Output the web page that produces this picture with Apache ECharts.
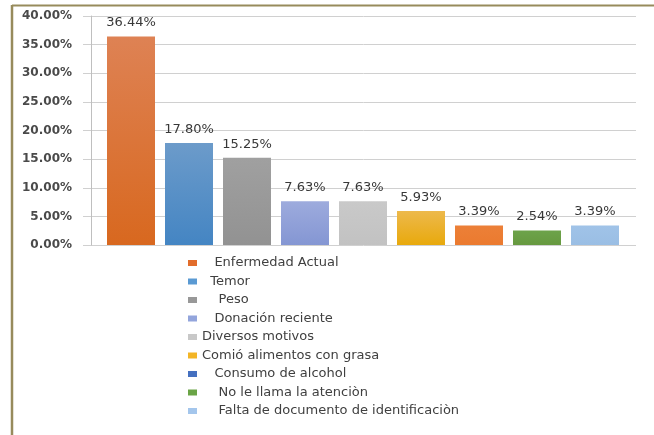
<!DOCTYPE html>
<html>
<head>
<meta charset="utf-8">
<script src="https://cdn.jsdelivr.net/npm/echarts@6/dist/echarts.min.js"></script>
<style>
html,body{margin:0;padding:0;background:#fff;}
#c{width:654px;height:435px;}
</style>
</head>
<body>
<div id="c"></div>
<script>
// ---- data ----
const categories = [
  'Enfermedad Actual',
  'Temor',
  'Peso',
  'Donación reciente',
  'Diversos motivos',
  'Comió alimentos con grasa',
  'Consumo de alcohol',
  'No le llama la atenciòn',
  'Falta de documento de identificaciòn'
];
const values = [36.44, 17.80, 15.25, 7.63, 7.63, 5.93, 3.39, 2.54, 3.39];
const yTickLabels = ['0.00%', '5.00%', '10.00%', '15.00%', '20.00%', '25.00%', '30.00%', '35.00%', '40.00%'];

// ---- styles ----
const barColors = [
  ['#DE8254', '#D8681F'],
  ['#6C9BCA', '#4485C3'],
  ['#A0A0A0', '#929292'],
  ['#9DABDD', '#8496D3'],
  ['#C9C9C9', '#C2C2C2'],
  ['#EDB94C', '#E8A90C'],
  ['#EC8038', '#EB7A2F'],
  ['#6DA34A', '#66993F'],
  ['#A0C3E8', '#9ABEE4']
];
const legendColors = ['#E26D2B', '#5A9AD3', '#989898', '#93A5DC', '#C8C8C8', '#F3B526', '#4570C0', '#6AA446', '#A4C6EC'];
const legendIndent = [3, 2, 4, 3, 0, 0, 3, 4, 4];

const chart = echarts.init(document.getElementById('c'), null, {renderer: 'canvas'});

const series = categories.map((name, i) => ({
  name: name,
  type: 'bar',
  xAxisIndex: 0,
  yAxisIndex: 0,
  barWidth: 48,
  barGap: '-100%',
  data: values.map((v, j) => (j === i ? v : '-')),
  itemStyle: {
    color: new echarts.graphic.LinearGradient(0, 0, 0, 1, [
      {offset: 0, color: barColors[i][0]},
      {offset: 1, color: barColors[i][1]}
    ])
  },
  label: {
    show: true,
    position: 'top',
    distance: 7,
    formatter: p => p.value.toFixed(2) + '%',
    fontFamily: 'DejaVu Sans',
    fontSize: 13,
    color: '#383838'
  }
}));

const option = {
  backgroundColor: '#fff',
  animation: false,
  grid: [
    {left: 102, right: 30, top: 16, bottom: 190},
    {left: 91, right: 18, top: 16, bottom: 190}
  ],
  xAxis: [
    {type: 'category', gridIndex: 0, data: categories, show: false},
    {type: 'value', gridIndex: 1, min: 0, max: 1, show: false}
  ],
  yAxis: [
    {type: 'value', gridIndex: 0, min: 0, max: 40, interval: 5, show: false},
    {
      type: 'value', gridIndex: 1, min: 0, max: 40, interval: 5,
      axisLine: {show: true, lineStyle: {color: '#BFBFBF', width: 1}},
      axisTick: {show: true, length: 8, lineStyle: {color: '#D0D0D0', width: 1}},
      splitLine: {show: true, lineStyle: {color: '#D0D0D0', width: 1}},
      axisLabel: {
        margin: 19,
        fontFamily: 'DejaVu Sans',
        fontWeight: 'bold',
        fontSize: 12,
        color: '#4a4a4a',
        formatter: v => yTickLabels[Math.round(v / 5)]
      }
    }
  ],
  legend: {
    orient: 'vertical',
    left: 188,
    top: 256,
    padding: 0,
    itemWidth: 9,
    itemHeight: 6,
    itemGap: 4.5,
    icon: 'rect',
    selectedMode: false,
    textStyle: {fontFamily: 'DejaVu Sans', fontSize: 13, color: '#404040', lineHeight: 14},
    data: categories.map((n, i) => ({name: n, itemStyle: {color: legendColors[i]}})),
    formatter: n => ' '.repeat(legendIndent[categories.indexOf(n)]) + n
  },
  graphic: [
    {type: 'line', shape: {x1: 12, y1: 5.5, x2: 654, y2: 5.5}, style: {stroke: '#978B5C', lineWidth: 2}},
    {type: 'line', shape: {x1: 12, y1: 5, x2: 12, y2: 435}, style: {stroke: '#978B5C', lineWidth: 2.5}}
  ],
  series: series
};
chart.setOption(option);
</script>
</body>
</html>
